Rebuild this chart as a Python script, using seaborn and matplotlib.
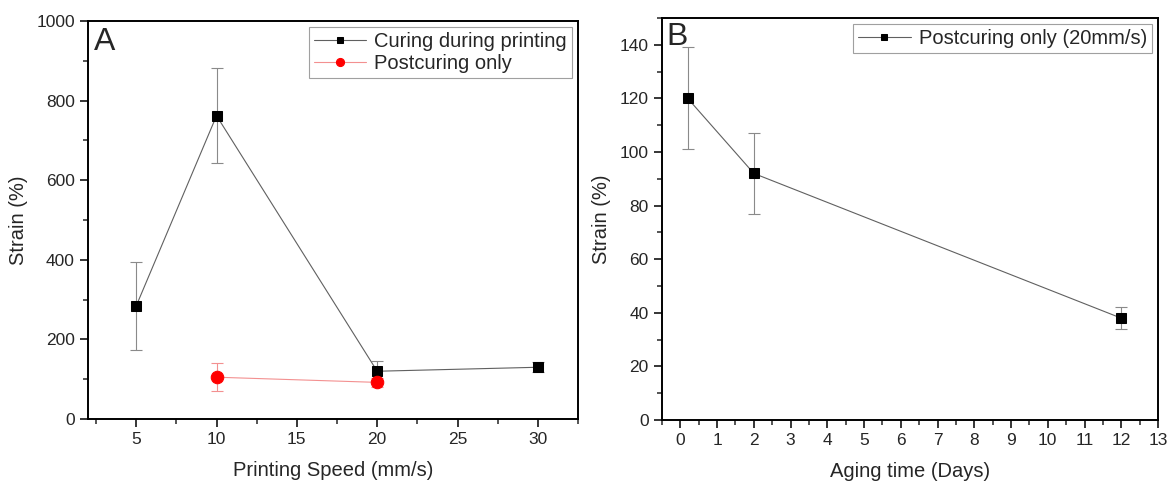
import numpy as np
import pandas as pd
import seaborn as sns
from matplotlib import pyplot as plt
from matplotlib.ticker import MultipleLocator

# panel A data
speed_curing = [5, 10, 20, 30]
strain_curing = [284, 762, 120, 130]
err_curing = [110, 120, 25, 12]

speed_post = [10, 20]
strain_post = [105, 92]
err_post = [35, 12]

# panel B data
aging_days = [0.2, 2, 12]
strain_aging = [120, 92, 38]
err_aging = [19, 15, 4]

sns.set_style("ticks")
plt.rcParams['font.family'] = ['Liberation Sans', 'DejaVu Sans']
plt.rcParams['axes.linewidth'] = 1.4

fig = plt.figure(figsize=(11.68, 4.83), dpi=100)
axA = fig.add_axes([88/1168, 1 - 419/483, 490/1168, 398/483])
axB = fig.add_axes([662/1168, 1 - 420/483, 496/1168, 402/483])

df_c = pd.DataFrame({"x": speed_curing, "y": strain_curing})
df_p = pd.DataFrame({"x": speed_post, "y": strain_post})
df_b = pd.DataFrame({"x": aging_days, "y": strain_aging})

# panel A
axA.errorbar(speed_curing, strain_curing, yerr=err_curing, fmt='none',
             ecolor='#8a8a8a', elinewidth=0.8, capsize=4, capthick=0.8, zorder=1)
axA.errorbar(speed_post, strain_post, yerr=err_post, fmt='none',
             ecolor='#f39090', elinewidth=0.8, capsize=4, capthick=0.8, zorder=1)
sns.lineplot(data=df_c, x="x", y="y", ax=axA, color='#606060', linewidth=0.8,
             marker='s', markersize=7.5, markerfacecolor='black', markeredgecolor='black',
             label="Curing during printing", zorder=3)
sns.lineplot(data=df_p, x="x", y="y", ax=axA, color='#f39090', linewidth=0.8,
             marker='o', markersize=9, markerfacecolor='red', markeredgecolor='red',
             label="Postcuring only", zorder=3)
axA.set_xlim(2, 32.5)
axA.set_ylim(0, 1000)
axA.set_xticks([5, 10, 15, 20, 25, 30])
axA.xaxis.set_minor_locator(MultipleLocator(2.5))
axA.yaxis.set_major_locator(MultipleLocator(200))
axA.yaxis.set_minor_locator(MultipleLocator(100))
axA.set_xlabel("Printing Speed (mm/s)", fontsize=14.5, labelpad=10)
axA.set_ylabel("Strain (%)", fontsize=14.5, labelpad=6)
axA.text(0.012, 0.985, "A", transform=axA.transAxes, fontsize=23, va='top', ha='left')
legA = axA.legend(loc='upper right', fontsize=14.5, frameon=True, fancybox=False,
                  handlelength=2.6, borderaxespad=0.3, handletextpad=0.4,
                  borderpad=0.25, labelspacing=0.15, markerscale=0.65)
legA.get_frame().set_edgecolor('#888888')
legA.get_frame().set_linewidth(0.8)

# panel B
axB.errorbar(aging_days, strain_aging, yerr=err_aging, fmt='none',
             ecolor='#8a8a8a', elinewidth=0.8, capsize=4, capthick=0.8, zorder=1)
sns.lineplot(data=df_b, x="x", y="y", ax=axB, color='#606060', linewidth=0.8,
             marker='s', markersize=7.5, markerfacecolor='black', markeredgecolor='black',
             label="Postcuring only (20mm/s)", zorder=3)
axB.set_xlim(-0.5, 13)
axB.set_ylim(0, 150)
axB.xaxis.set_major_locator(MultipleLocator(1))
axB.xaxis.set_minor_locator(MultipleLocator(0.5))
axB.yaxis.set_major_locator(MultipleLocator(20))
axB.yaxis.set_minor_locator(MultipleLocator(10))
axB.set_xlabel("Aging time (Days)", fontsize=14.5, labelpad=10)
axB.set_ylabel("Strain (%)", fontsize=14.5, labelpad=6)
axB.text(0.008, 0.99, "B", transform=axB.transAxes, fontsize=23, va='top', ha='left')
legB = axB.legend(loc='upper right', fontsize=14.5, frameon=True, fancybox=False,
                  handlelength=2.6, borderaxespad=0.3, handletextpad=0.4,
                  borderpad=0.25, markerscale=0.65)
legB.get_frame().set_edgecolor('#888888')
legB.get_frame().set_linewidth(0.8)

for ax in (axA, axB):
    ax.tick_params(axis='both', which='major', direction='out', length=6, width=1.3,
                   labelsize=12.5, top=False, right=False)
    ax.tick_params(axis='both', which='minor', direction='out', length=3.5, width=1.1,
                   top=False, right=False)
    for s in ax.spines.values():
        s.set_visible(True)
        s.set_color('black')

fig.savefig("out.png", dpi=100)
